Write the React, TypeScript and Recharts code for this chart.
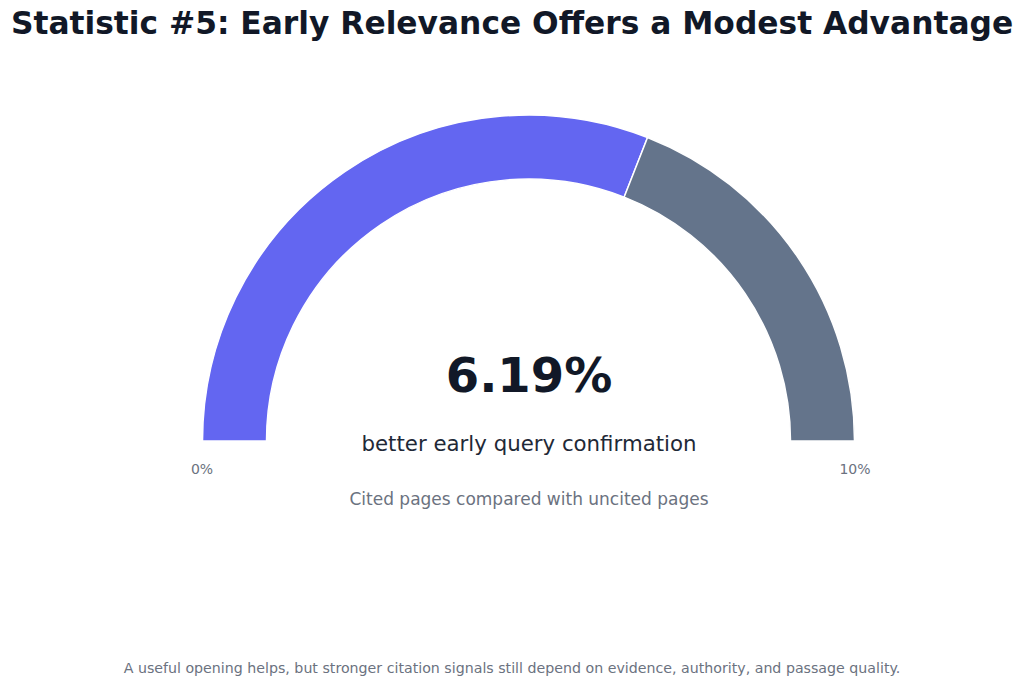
import { PieChart, Pie, Cell } from 'recharts'

// gauge values (percent)
const gaugeMax = 10
const gaugeValue = 6.19
const segmentNames = ['Advantage', 'Remaining']
const segmentValues = [gaugeValue, gaugeMax - gaugeValue]
const segmentColors = ['#6366f1', '#64748b']
const tickLabels = ['0%', '10%']

const FONT = '"DejaVu Sans", sans-serif'

export default function App() {
  const data = segmentNames.map((name, i) => ({ name, value: segmentValues[i] }))

  return (
    <div style={{ position: 'absolute', left: 0, top: 0, width: 1024, height: 686, background: '#fff' }}>
      <PieChart
        width={1024}
        height={686}
        margin={{ top: 0, right: 0, bottom: 0, left: 0 }}
        style={{ position: 'absolute', left: 0, top: 0 }}
      >
        <Pie
          data={data}
          dataKey="value"
          cx={528.5}
          cy={441}
          startAngle={180}
          endAngle={0}
          innerRadius={262}
          outerRadius={326}
          stroke="#ffffff"
          strokeWidth={1.5}
          isAnimationActive={false}
        >
          {data.map((d, i) => (
            <Cell key={d.name} fill={segmentColors[i]} />
          ))}
        </Pie>
      </PieChart>
      {/* text overlay */}
      <svg width={1024} height={686} style={{ position: 'absolute', left: 0, top: 0, pointerEvents: 'none' }}>
        <text x={512} y={34} textAnchor="middle" fontFamily={FONT} fontWeight="bold" fontSize={31.3} fill="#111827">
          Statistic #5: Early Relevance Offers a Modest Advantage
        </text>
        <text x={529} y={392} textAnchor="middle" fontFamily={FONT} fontWeight="bold" fontSize={48} fill="#111827">
          {gaugeValue.toFixed(2)}%
        </text>
        <text x={529} y={451} textAnchor="middle" fontFamily={FONT} fontSize={21.3} fill="#1f2937">
          better early query confirmation
        </text>
        <text x={202} y={474} textAnchor="middle" fontFamily={FONT} fontSize={14} fill="#6b7280">
          {tickLabels[0]}
        </text>
        <text x={855} y={474} textAnchor="middle" fontFamily={FONT} fontSize={14} fill="#6b7280">
          {tickLabels[1]}
        </text>
        <text x={529} y={505} textAnchor="middle" fontFamily={FONT} fontSize={17} fill="#6b7280">
          Cited pages compared with uncited pages
        </text>
        <text x={512} y={673} textAnchor="middle" fontFamily={FONT} fontSize={14.2} fill="#6b7280">
          A useful opening helps, but stronger citation signals still depend on evidence, authority, and passage quality.
        </text>
      </svg>
    </div>
  )
}
